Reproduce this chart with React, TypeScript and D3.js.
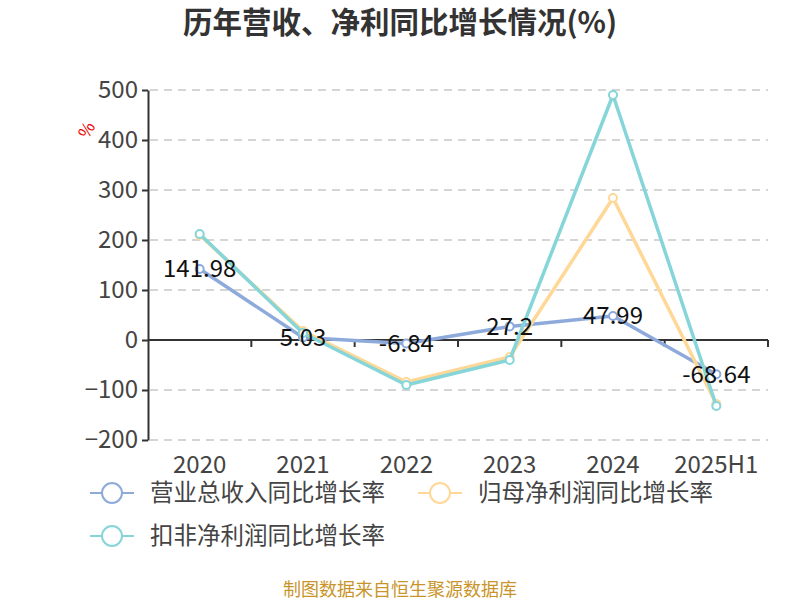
import * as d3 from "d3";
import { useEffect, useRef } from "react";

const years = ["2020", "2021", "2022", "2023", "2024", "2025H1"];
const revenueGrowth = [141.98, 5.03, -6.84, 27.2, 47.99, -68.64];
const netProfitGrowth = [210, 18, -84, -34, 284, -128];
const deductedProfitGrowth = [212, 14, -90, -40, 490, -132];
const yTicks = [-200, -100, 0, 100, 200, 300, 400, 500];

const seriesNames = ["营业总收入同比增长率", "归母净利润同比增长率", "扣非净利润同比增长率"];
const seriesColors = ["#8eaadb", "#ffd898", "#86d5d8"];

const font = "'Noto Sans CJK SC', 'Noto Sans', sans-serif";

export default function App() {
    const svgRef = useRef<SVGSVGElement>(null);
    const width = 800;
    const height = 600;
    const marginLeft = 148;
    const marginRight = 32;
    const marginTop = 90;
    const chartHeight = 350;

    useEffect(() => {
        if (svgRef.current) {
            drawChart();
        }
    }, [svgRef]);

    const drawChart = () => {
        const svg = d3.select(svgRef.current);
        svg.selectAll("*").remove();

        const chartWidth = width - marginLeft - marginRight;
        const scaleX = d3.scaleBand().domain(years).range([0, chartWidth]);
        const scaleY = d3.scaleLinear().domain([-200, 500]).range([chartHeight, 0]);

        // title
        svg.append("text")
            .attr("x", width / 2)
            .attr("y", 33)
            .attr("text-anchor", "middle")
            .attr("font-family", font)
            .attr("font-size", 29.5)
            .attr("font-weight", "bold")
            .attr("fill", "#333")
            .text("历年营收、净利同比增长情况(%)");

        const chart = svg
            .append("g")
            .attr("transform", "translate(" + marginLeft + "," + marginTop + ")");

        // dashed grid
        chart.append("g")
            .selectAll("line")
            .data(yTicks.filter((t) => t !== 0))
            .enter()
            .append("line")
            .attr("x1", 2)
            .attr("x2", chartWidth)
            .attr("y1", (d) => scaleY(d))
            .attr("y2", (d) => scaleY(d))
            .attr("stroke", "#c8c8c8")
            .attr("stroke-width", 1.5)
            .attr("stroke-dasharray", "8,6");

        // y axis
        const yAxis = chart.append("g")
            .call(d3.axisLeft(scaleY).tickValues(yTicks).tickSize(6).tickSizeOuter(0).tickPadding(4));
        yAxis.select(".domain").attr("stroke", "#333").attr("stroke-width", 2);
        yAxis.selectAll(".tick line").attr("stroke", "#333").attr("stroke-width", 2);
        yAxis.selectAll(".tick text")
            .attr("font-family", font)
            .attr("font-size", 24)
            .attr("fill", "#444");

        // x axis along zero
        const zeroY = scaleY(0);
        const xAxisG = chart.append("g").attr("transform", "translate(0," + zeroY + ")");
        xAxisG.append("line")
            .attr("x1", 0)
            .attr("x2", chartWidth)
            .attr("stroke", "#333")
            .attr("stroke-width", 2);
        xAxisG.selectAll("line.tk")
            .data(years)
            .enter()
            .append("line")
            .attr("class", "tk")
            .attr("x1", (d) => (scaleX(d) as number) + scaleX.bandwidth())
            .attr("x2", (d) => (scaleX(d) as number) + scaleX.bandwidth())
            .attr("y1", 0)
            .attr("y2", 7)
            .attr("stroke", "#333")
            .attr("stroke-width", 2);

        // x labels at bottom
        chart.append("g")
            .selectAll("text")
            .data(years)
            .enter()
            .append("text")
            .attr("x", (d) => (scaleX(d) as number) + scaleX.bandwidth() / 2)
            .attr("y", chartHeight + 33)
            .attr("text-anchor", "middle")
            .attr("font-family", font)
            .attr("font-size", 24)
            .attr("fill", "#444")
            .text((d) => d);

        // unit label
        svg.append("text")
            .attr("transform", "translate(92,133) rotate(-60)")
            .attr("text-anchor", "middle")
            .attr("font-family", font)
            .attr("font-size", 17)
            .attr("fill", "#e00")
            .text("%");

        const allSeries = [revenueGrowth, netProfitGrowth, deductedProfitGrowth];
        const line = d3
            .line<number>()
            .x((d, i) => (scaleX(years[i]) as number) + scaleX.bandwidth() / 2)
            .y((d) => scaleY(d));

        allSeries.forEach((values, s) => {
            chart.append("path")
                .datum(values)
                .attr("d", line)
                .attr("fill", "none")
                .attr("stroke", seriesColors[s])
                .attr("stroke-width", 3.5)
                .attr("stroke-linejoin", "round");
            chart.append("g")
                .selectAll("circle")
                .data(values)
                .enter()
                .append("circle")
                .attr("cx", (d, i) => (scaleX(years[i]) as number) + scaleX.bandwidth() / 2)
                .attr("cy", (d) => scaleY(d))
                .attr("r", 4)
                .attr("fill", "#fff")
                .attr("stroke", seriesColors[s])
                .attr("stroke-width", 2);
        });

        // revenue labels
        chart.append("g")
            .selectAll("text")
            .data(revenueGrowth)
            .enter()
            .append("text")
            .attr("x", (d, i) => (scaleX(years[i]) as number) + scaleX.bandwidth() / 2)
            .attr("y", (d) => scaleY(d))
            .attr("dy", "0.35em")
            .attr("text-anchor", "middle")
            .attr("font-family", font)
            .attr("font-size", 24)
            .attr("fill", "#111")
            .text((d) => `${d}`);

        // legend
        const legendPos = [
            { x: 90, y: 493 },
            { x: 418, y: 493 },
            { x: 90, y: 536 },
        ];
        seriesNames.forEach((name, s) => {
            const g = svg.append("g").attr("transform", "translate(" + legendPos[s].x + "," + legendPos[s].y + ")");
            g.append("line")
                .attr("x1", 0)
                .attr("x2", 44)
                .attr("stroke", seriesColors[s])
                .attr("stroke-width", 2);
            g.append("circle")
                .attr("cx", 22)
                .attr("cy", 0)
                .attr("r", 10)
                .attr("fill", "#fff")
                .attr("stroke", seriesColors[s])
                .attr("stroke-width", 2);
            g.append("text")
                .attr("x", 60)
                .attr("y", 0)
                .attr("dy", "0.35em")
                .attr("font-family", font)
                .attr("font-size", 23.5)
                .attr("fill", "#444")
                .text(name);
        });

        // source
        svg.append("text")
            .attr("x", width / 2)
            .attr("y", 596)
            .attr("text-anchor", "middle")
            .attr("font-family", font)
            .attr("font-size", 18)
            .attr("fill", "#c9952b")
            .text("制图数据来自恒生聚源数据库");
    };

    return (
        <svg
            ref={svgRef}
            width={width}
            height={height}
            style={{ position: "absolute", left: 0, top: 0, background: "#fff" }}
        />
    );
}
